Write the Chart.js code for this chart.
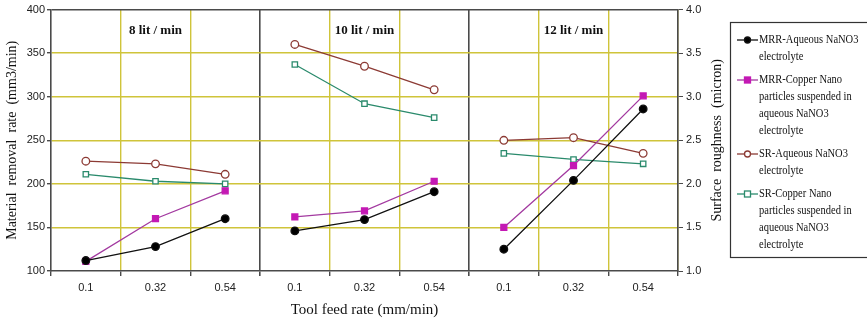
<!DOCTYPE html>
<html>
<head>
<meta charset="utf-8">
<script src="https://cdn.jsdelivr.net/npm/chart.js@4/dist/chart.umd.min.js"></script>
<style>
    body { margin: 0; background: #fff; }
    #wrap { width: 867px; height: 322px; position: relative; }
</style>
</head>
<body>
<div id="wrap"><canvas id="feedChart"></canvas></div>
<script>
var feedRates = ['0.1', '0.32', '0.54'];
var flowRates = ['8 lit / min', '10 lit / min', '12 lit / min'];

// MRR in mm3/min (left axis), SR in micron (right axis), 3 feed rates per flow rate
var mrrAqueous = [112, 128, 160, 146, 159, 191, 125, 204, 286];
var mrrCopper = [111, 160, 192, 162, 169, 203, 150, 221, 301];
var srAqueous = [2.26, 2.23, 2.11, 3.60, 3.35, 3.08, 2.50, 2.53, 2.35];
var srCopper = [2.11, 2.03, 2.00, 3.37, 2.92, 2.76, 2.35, 2.28, 2.23];

var mrrTicks = [100, 150, 200, 250, 300, 350, 400];
var srTicks = [1.0, 1.5, 2.0, 2.5, 3.0, 3.5, 4.0];

var legendText = [
    ['MRR-Aqueous NaNO3', 'electrolyte'],
    ['MRR-Copper Nano', 'particles suspended in', 'aqueous NaNO3', 'electrolyte'],
    ['SR-Aqueous NaNO3', 'electrolyte'],
    ['SR-Copper Nano', 'particles suspended in', 'aqueous NaNO3', 'electrolyte']
];

var labels = [];
flowRates.forEach(function () { feedRates.forEach(function (f) { labels.push(f); }); });

var gridYellow = '#cfc43a';
var frame = '#4a4a4a';

// break the line between panels
function splitPanels(color) {
    return function (ctx) {
        return (ctx.p0DataIndex % 3 === 2) ? 'transparent' : color;
    };
}

function series(label, data, axis, line, fill, style, radius) {
    return {
        label: label,
        data: data,
        yAxisID: axis,
        borderColor: line,
        borderWidth: 1.3,
        pointStyle: style,
        pointRadius: radius,
        pointBackgroundColor: fill,
        pointBorderColor: style === 'rect' && fill !== '#fff' ? fill : line,
        pointBorderWidth: 1.3,
        segment: { borderColor: splitPanels(line) },
        fill: false,
        tension: 0
    };
}

var datasets = [
    series('MRR-Aqueous NaNO3 electrolyte', mrrAqueous, 'y', '#111', '#000', 'circle', 3.8),
    series('MRR-Copper Nano particles suspended in aqueous NaNO3 electrolyte', mrrCopper, 'y', '#a33aa0', '#c419b4', 'rect', 4.2),
    series('SR-Aqueous NaNO3 electrolyte', srAqueous, 'y2', '#8c3a34', '#fff', 'circle', 3.8),
    series('SR-Copper Nano particles suspended in aqueous NaNO3 electrolyte', srCopper, 'y2', '#2a8a6c', '#fff', 'rect', 3.8)
];

var extras = {
    id: 'extras',
    afterDraw: function (chart) {
        var c = chart.ctx;
        var x = chart.scales.x;
        var area = chart.chartArea;
        c.save();
        // panel titles
        c.fillStyle = '#111';
        c.font = 'bold 13px "Liberation Serif"';
        c.textAlign = 'center';
        c.textBaseline = 'middle';
        flowRates.forEach(function (t, i) {
            var cx = x.getPixelForValue(i * 3 + 1);
            c.fillText(t, cx, area.top + 21);
        });
        // right axis title, reading bottom to top
        c.font = '14px "Liberation Serif"';
        c.translate(717, (area.top + area.bottom) / 2);
        c.rotate(-Math.PI / 2);
        c.fillText('Surface  roughness  (micron)', 0, 0);
        c.restore();

        // legend box
        c.save();
        c.strokeStyle = '#333';
        c.lineWidth = 1.2;
        c.strokeRect(730.5, 22.5, 150, 235);
        c.textBaseline = 'middle';
        var y = 40;
        legendText.forEach(function (lines, i) {
            var ds = chart.data.datasets[i];
            c.strokeStyle = ds.borderColor;
            c.lineWidth = 1.3;
            c.beginPath();
            c.moveTo(737, y);
            c.lineTo(758, y);
            c.stroke();
            c.fillStyle = ds.pointBackgroundColor;
            c.strokeStyle = ds.pointBorderColor;
            if (ds.pointStyle === 'circle') {
                c.beginPath();
                c.arc(747.5, y, 3, 0, Math.PI * 2);
                c.fill();
                c.stroke();
            } else {
                c.fillRect(744.5, y - 3, 6, 6);
                c.strokeRect(744.5, y - 3, 6, 6);
            }
            c.fillStyle = '#111';
            lines.forEach(function (t, j) {
                c.save();
                c.translate(759, y + j * 17);
                c.scale(0.84, 1);
                c.font = '12.5px "Liberation Serif"';
                c.fillText(t, 0, 0);
                c.restore();
            });
            y += lines.length * 17 + 6;
        });
        c.restore();
    }
};

new Chart(document.getElementById('feedChart'), {
    type: 'line',
    data: {
        labels: labels,
        datasets: datasets
    },
    options: {
        responsive: true,
        maintainAspectRatio: false,
        animation: false,
        layout: { padding: { top: 9, right: 137, bottom: 0, left: 0 } },
        plugins: {
            legend: { display: false },
            tooltip: { enabled: false }
        },
        scales: {
            x: {
                offset: true,
                grid: {
                    offset: true,
                    lineWidth: function (ctx) { return (ctx.index === 3 || ctx.index === 6) ? 1.6 : 1.4; },
                    color: function (ctx) {
                        if (ctx.index === 3 || ctx.index === 6) return frame;
                        if (ctx.index === 0 || ctx.index === 9) return 'transparent';
                        return gridYellow;
                    },
                    tickColor: frame,
                    tickLength: 5
                },
                border: { color: frame, width: 1.6 },
                ticks: {
                    color: '#222',
                    font: { family: 'Liberation Sans', size: 11 },
                    padding: 5,
                    maxRotation: 0,
                    autoSkip: false
                },
                title: {
                    display: true,
                    text: 'Tool feed rate (mm/min)',
                    color: '#111',
                    font: { family: 'Liberation Serif', size: 15 },
                    padding: { top: 4, bottom: 3 }
                },
                afterFit: function (s) { s.height = 51; }
            },
            y: {
                position: 'left',
                min: mrrTicks[0],
                max: mrrTicks[mrrTicks.length - 1],
                afterBuildTicks: function (s) { s.ticks = mrrTicks.map(function (v) { return { value: v }; }); },
                grid: {
                    lineWidth: 1.4,
                    color: function (ctx) {
                        if (ctx.tick && ctx.tick.value === 400) return frame;
                        if (ctx.tick && ctx.tick.value === 100) return 'transparent';
                        return gridYellow;
                    },
                    tickColor: frame,
                    tickLength: 4
                },
                border: { color: frame, width: 1.6 },
                ticks: {
                    color: '#222',
                    font: { family: 'Liberation Sans', size: 11 },
                    padding: 2
                },
                title: {
                    display: true,
                    text: 'Material  removal  rate  (mm3/min)',
                    color: '#111',
                    font: { family: 'Liberation Serif', size: 14 },
                    padding: { top: 4, bottom: 4 }
                },
                afterFit: function (s) { s.width = 51; }
            },
            y2: {
                position: 'right',
                min: srTicks[0],
                max: srTicks[srTicks.length - 1],
                afterBuildTicks: function (s) { s.ticks = srTicks.map(function (v) { return { value: v }; }); },
                grid: { drawOnChartArea: false, color: frame, tickLength: 5 },
                border: { color: frame, width: 1.6 },
                ticks: {
                    color: '#222',
                    font: { family: 'Liberation Sans', size: 11 },
                    padding: 3,
                    callback: function (v) { return Number(v).toFixed(1); }
                },
                afterFit: function (s) { s.width = 52; }
            }
        }
    },
    plugins: [extras]
});
</script>
</body>
</html>
